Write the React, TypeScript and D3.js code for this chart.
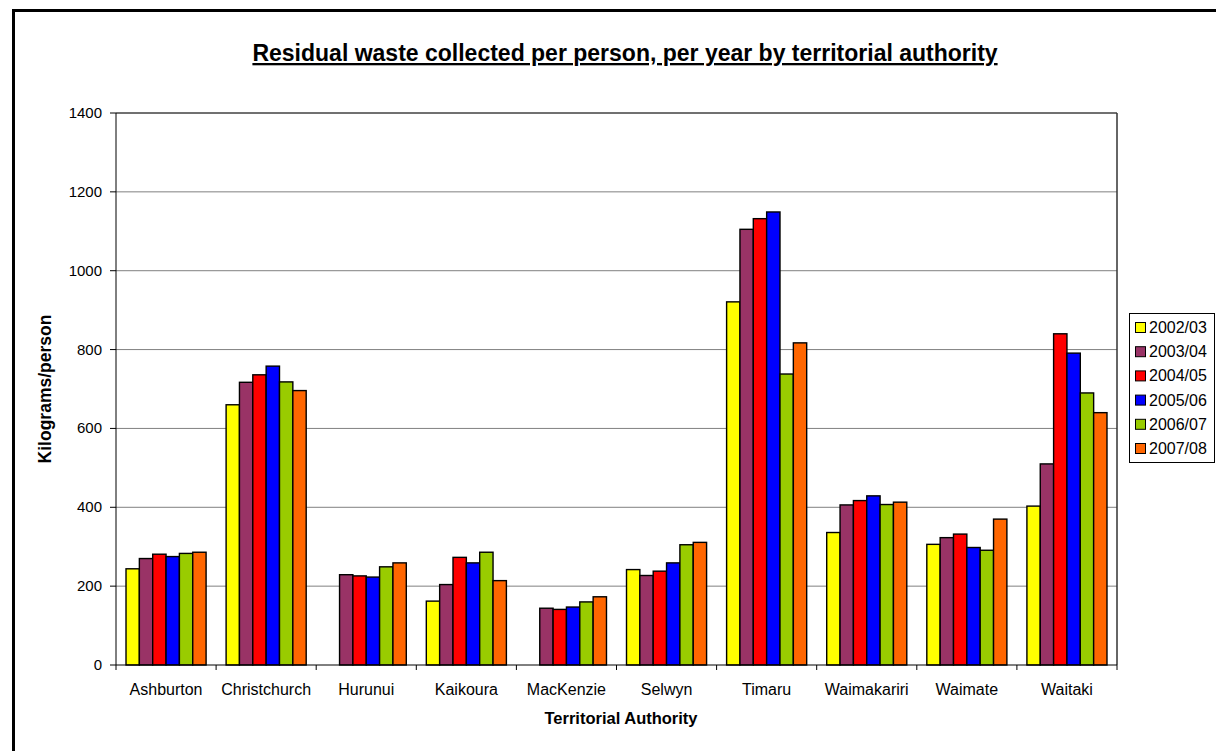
import React from "react";
import * as d3 from "d3";

const categories = ["Ashburton", "Christchurch", "Hurunui", "Kaikoura", "MacKenzie", "Selwyn", "Timaru", "Waimakariri", "Waimate", "Waitaki"];
const seriesNames = ["2002/03", "2003/04", "2004/05", "2005/06", "2006/07", "2007/08"];
const seriesColors = ["#FFFF00", "#993366", "#FF0000", "#0000FF", "#99CC00", "#FF6600"];
const v2002 = [244, 660, 0, 162, 0, 242, 921, 336, 306, 403];
const v2003 = [270, 717, 229, 204, 144, 227, 1105, 406, 323, 510];
const v2004 = [281, 736, 226, 273, 141, 238, 1132, 417, 332, 840];
const v2005 = [275, 758, 223, 259, 147, 259, 1149, 429, 298, 791];
const v2006 = [283, 718, 249, 286, 160, 305, 738, 407, 291, 690];
const v2007 = [286, 696, 259, 214, 173, 311, 817, 413, 370, 640];
const seriesValues = [v2002, v2003, v2004, v2005, v2006, v2007];
const yTicks = [0, 200, 400, 600, 800, 1000, 1200, 1400];

export default function App() {
  const left = 116, right = 1117, top = 113, bottom = 665;
  const xb = d3.scaleBand<string>().domain(categories).range([left, right]).padding(0);
  const step = xb.step();
  const inner = d3.scaleBand<number>().domain(d3.range(seriesNames.length)).range([0, step * 0.8]);
  const y = d3.scaleLinear().domain([0, 1400]).range([bottom, top]);
  const font = "Liberation Sans, Arial, sans-serif";
  return (
    <svg width={1216} height={751} style={{ position: "absolute", left: 0, top: 0 }} fontFamily={font}>
      <rect x={0} y={0} width={1216} height={751} fill="#fff" />
      <line x1={12} y1={10.5} x2={1216} y2={10.5} stroke="#000" strokeWidth={3} />
      <line x1={13.5} y1={9} x2={13.5} y2={751} stroke="#000" strokeWidth={3} />
      <text x={625} y={61} textAnchor="middle" fontSize={23} fontWeight="bold" textDecoration="underline">
        Residual waste collected per person, per year by territorial authority
      </text>
      {yTicks.slice(1).map((t) => (
        <line key={t} x1={left} x2={right} y1={y(t)} y2={y(t)} stroke="#808080" strokeWidth={1} />
      ))}
      {categories.map((c, ci) =>
        seriesValues.map((vals, si) => {
          const v = vals[ci];
          if (!v) return null;
          const bx = (xb(c) as number) + step * 0.1 + (inner(si) as number);
          return (
            <rect key={c + si} x={bx} y={y(v)} width={inner.bandwidth()} height={y(0) - y(v)}
              fill={seriesColors[si]} stroke="#000" strokeWidth={1.4} />
          );
        })
      )}
      <line x1={left} x2={right} y1={top} y2={top} stroke="#222" strokeWidth={1} />
      <line x1={right} x2={right} y1={top} y2={bottom} stroke="#333" strokeWidth={1.5} />
      <line x1={left} x2={left} y1={top} y2={bottom} stroke="#000" strokeWidth={1} />
      <line x1={left} x2={right} y1={bottom} y2={bottom} stroke="#000" strokeWidth={1} />
      {yTicks.map((t) => (
        <g key={t}>
          <line x1={left - 6} x2={left} y1={y(t)} y2={y(t)} stroke="#000" />
          <text x={102} y={y(t) + 5} textAnchor="end" fontSize={15}>{t}</text>
        </g>
      ))}
      {d3.range(categories.length + 1).map((i) => (
        <line key={i} x1={left + i * step} x2={left + i * step} y1={bottom} y2={bottom + 5} stroke="#000" />
      ))}
      {categories.map((c) => (
        <text key={c} x={(xb(c) as number) + step / 2} y={695} textAnchor="middle" fontSize={16}>{c}</text>
      ))}
      <text x={621} y={724} textAnchor="middle" fontSize={16.5} fontWeight="bold">Territorial Authority</text>
      <text transform={`translate(51,389) rotate(-90)`} textAnchor="middle" fontSize={17.5} fontWeight="bold">Kilograms/person</text>
      <rect x={1129.5} y={313.5} width={85} height={149} fill="#fff" stroke="#000" strokeWidth={1} />
      {seriesNames.map((s, i) => (
        <g key={s}>
          <rect x={1135.5} y={322.5 + i * 24.2} width={10} height={10} fill={seriesColors[i]} stroke="#000" strokeWidth={1} />
          <text x={1149} y={333 + i * 24.2} fontSize={16}>{s}</text>
        </g>
      ))}
    </svg>
  );
}
